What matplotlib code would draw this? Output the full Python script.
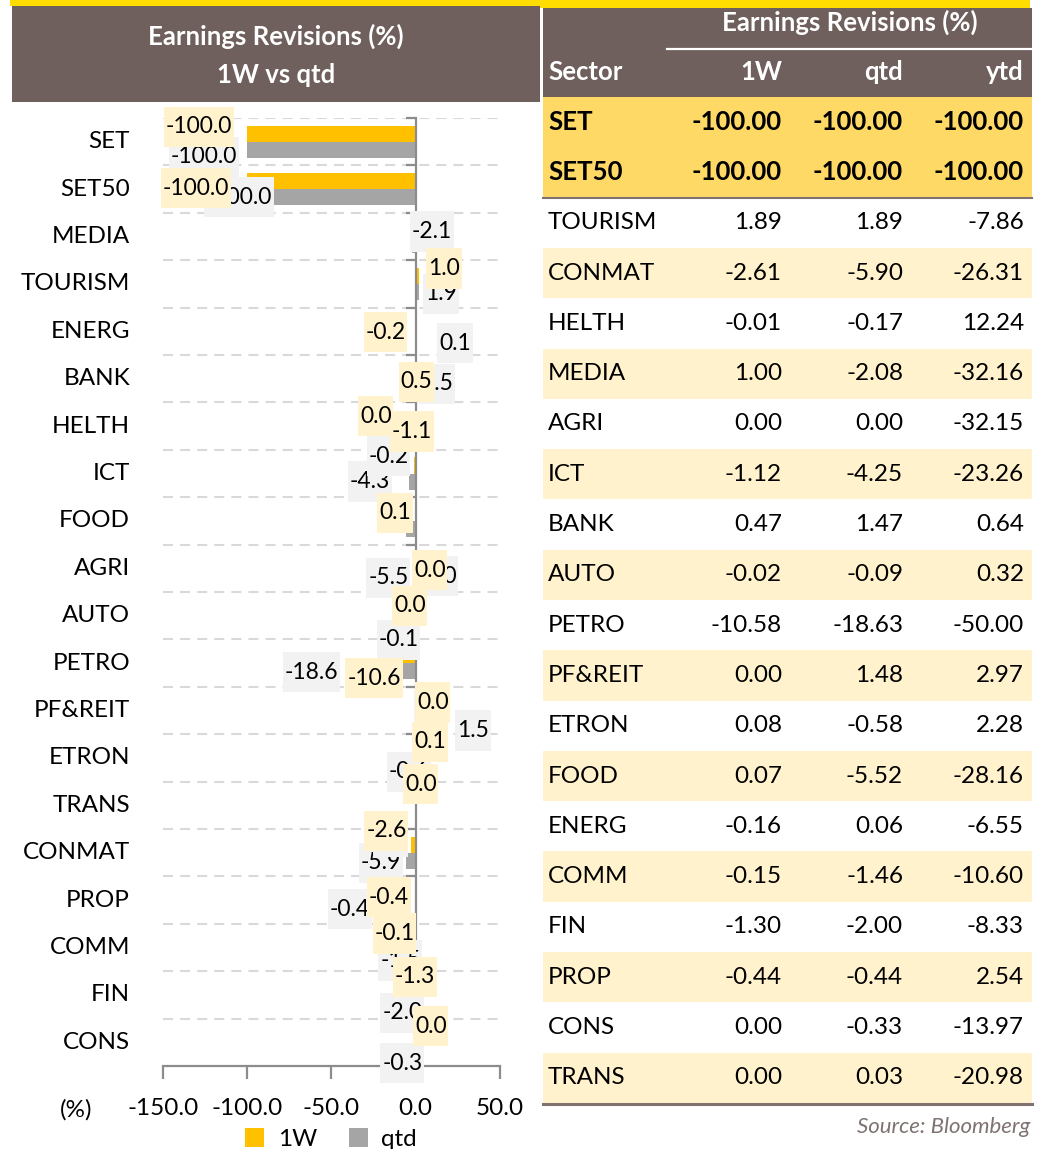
import matplotlib
matplotlib.use("Agg")
import matplotlib.pyplot as plt
from matplotlib.patches import Rectangle
from matplotlib.path import Path
from matplotlib.lines import Line2D
import numpy as np

# ---------------- data ----------------
table_sectors = ["SET", "SET50", "TOURISM", "CONMAT", "HELTH", "MEDIA", "AGRI", "ICT",
                 "BANK", "AUTO", "PETRO", "PF&REIT", "ETRON", "FOOD", "ENERG", "COMM",
                 "FIN", "PROP", "CONS", "TRANS"]
rev_1w = [-100.00, -100.00, 1.89, -2.61, -0.01, 1.00, 0.00, -1.12, 0.47, -0.02,
          -10.58, 0.00, 0.08, 0.07, -0.16, -0.148, -1.30, -0.44, 0.00, 0.00]
rev_qtd = [-100.00, -100.00, 1.89, -5.90, -0.17, -2.08, 0.00, -4.253, 1.47, -0.09,
           -18.63, 1.48, -0.58, -5.52, 0.06, -1.46, -2.00, -0.44, -0.33, 0.03]
rev_ytd = [-100.00, -100.00, -7.86, -26.31, 12.24, -32.16, -32.15, -23.26, 0.64, 0.32,
           -50.00, 2.97, 2.28, -28.16, -6.55, -10.60, -8.33, 2.54, -13.97, -20.98]

chart_sectors = ["SET", "SET50", "MEDIA", "TOURISM", "ENERG", "BANK", "HELTH", "ICT",
                 "FOOD", "AGRI", "AUTO", "PETRO", "PF&REIT", "ETRON", "TRANS", "CONMAT",
                 "PROP", "COMM", "FIN", "CONS"]
series_names = ["1W", "qtd"]
x_ticks = [-150, -100, -50, 0, 50]
table_columns = ["Sector", "1W", "qtd", "ytd"]

# ---------------- styles / layout ----------------
W, H, DPI = 1044, 1149, 100
BROWN = "#6F5F5D"
TOPYEL = "#FFDD00"
C_1W = "#FFC000"
C_QTD = "#A5A5A5"
LBL_1W = "#FFF2CC"
LBL_QTD = "#F2F2F2"
GOLD_ROW = "#FFD966"
LIGHT_ROW = "#FFF2CC"
AXC = "#8C8C8C"
FS_LBL = 16.5     # data labels inside the chart
FS = 17.5         # category names, ticks, table
FS_B = 18.5       # bold headers

# manual label displacements (pixels, +x right, +y down) as in the original chart
off_1w = [(-48, -7), (-51, 7), (27, 40), (25, -8), (-30, 9), (0, 11), (-40, -2), (-2, -34),
          (-21, 0), (14, 10), (-6, -2), (-24, 23), (17, 0), (14, -8), (5, -13), (-25, -14),
          (-26, 5), (-21, -6), (1, -10), (15, -8)]
off_qtd = [(-43, 7), (-8, 0), (20, -13), (22, 2), (39, 4), (19, -3), (-27, 22), (-39, 0),
           (-18, 49), (25, 0), (-17, 16), (-73, 1), (55, 12), (-6, 6), (-25, 24), (-25, 2),
           (-65, 1), (-13, 5), (-10, 10), (-13, 13)]

plt.rcParams["font.family"] = ["Lato", "DejaVu Sans"]

fig = plt.figure(figsize=(W / DPI, H / DPI), dpi=DPI)


def fx(px):
    return px / W


def fy(py):
    return 1 - py / H


def frect(x0, y0, x1, y1, color, z=0):
    fig.patches.append(Rectangle((fx(x0), fy(y1)), fx(x1) - fx(x0), fy(y0) - fy(y1),
                                 transform=fig.transFigure, facecolor=color,
                                 edgecolor="none", zorder=z))


def fline(x0, x1, y, color, lw):
    fig.lines.append(Line2D([fx(x0), fx(x1)], [fy(y), fy(y)], transform=fig.transFigure,
                            color=color, lw=lw))


def label_box(x0, y0, width, height, mutation_size):
    px = 0.08 * mutation_size
    py = 0.42 * mutation_size
    x0, y0 = x0 - px, y0 - py
    x1, y1 = x0 + width + 2 * px, y0 + height + 2 * py
    return Path([(x0, y0), (x1, y0), (x1, y1), (x0, y1), (x0, y0)], closed=True)


def fmt1(v):
    s = f"{v:.1f}"
    return "0.0" if s == "-0.0" else s


# ---------------- left panel header ----------------
frect(10, 0, 540, 6, TOPYEL)
frect(12, 6, 540, 102, BROWN)
fig.text(fx(276), fy(36), "Earnings Revisions (%)", color="white", fontsize=FS_B,
         fontweight="bold", ha="center", va="center")
fig.text(fx(276), fy(75), "1W vs qtd", color="white", fontsize=FS_B,
         fontweight="bold", ha="center", va="center")

# ---------------- chart ----------------
ax_top, ax_bot, ax_l, ax_r = 118, 1066, 163, 500
ax = fig.add_axes([fx(ax_l), fy(ax_bot), fx(ax_r) - fx(ax_l), (ax_bot - ax_top) / H])

v1 = [rev_1w[table_sectors.index(s)] for s in chart_sectors]
v2 = [rev_qtd[table_sectors.index(s)] for s in chart_sectors]
n = len(chart_sectors)
y = np.arange(n)
bh = 0.34
ax.barh(y - bh / 2, v1, height=bh, color=C_1W, zorder=3, label=series_names[0])
ax.barh(y + bh / 2, v2, height=bh, color=C_QTD, zorder=3, label=series_names[1])

ax.set_xlim(x_ticks[0], x_ticks[-1])
ax.set_ylim(n - 0.5, -0.5)
ax.set_xticks(x_ticks)
ax.set_xticklabels([f"{t:.1f}" for t in x_ticks], fontsize=FS)
ax.set_yticks([])
ax.set_yticks(np.arange(-0.5, n - 0.5), minor=True)
ax.tick_params(axis="y", which="minor", length=7, width=1.6, color=AXC, labelleft=False)
ax.tick_params(axis="x", length=9, width=1.6, color=AXC, pad=14)
ax.grid(axis="y", which="minor", linestyle=(0, (4.8, 3.4)), color="#D9D9D9", lw=1.5)
ax.set_axisbelow(True)
for s in ["top", "right"]:
    ax.spines[s].set_visible(False)
ax.spines["left"].set_position(("data", 0))
ax.spines["left"].set_color(AXC)
ax.spines["left"].set_linewidth(1.6)
ax.spines["left"].set_zorder(3.5)
ax.spines["bottom"].set_color(AXC)
ax.spines["bottom"].set_linewidth(1.6)

for i, name in enumerate(chart_sectors):
    ax.annotate(name, xy=(0, i), xycoords=ax.get_yaxis_transform(), xytext=(-33, 0),
                textcoords="offset pixels", ha="right", va="center", fontsize=FS,
                annotation_clip=False)

for vals, offs, fc, dy, zb in [(v2, off_qtd, LBL_QTD, bh / 2, 5), (v1, off_1w, LBL_1W, -bh / 2, 6)]:
    for i, v in enumerate(vals):
        dx, ddy = offs[i]
        ax.annotate(fmt1(v), xy=(v, i + dy), xytext=(dx, -ddy), textcoords="offset pixels",
                    ha="center", va="center", fontsize=FS_LBL, annotation_clip=False,
                    bbox=dict(boxstyle=label_box, fc=fc, ec="none"), zorder=zb - 0.01 * i)

fig.text(fx(76), fy(1110), "(%)", fontsize=FS, ha="center", va="center")
handles = [Rectangle((0, 0), 1, 1, fc=C_1W, ec="none"), Rectangle((0, 0), 1, 1, fc=C_QTD, ec="none")]
fig.legend(handles, series_names, loc="center", bbox_to_anchor=(fx(331), fy(1139)), ncol=2,
           frameon=False, fontsize=FS, handlelength=0.8, handleheight=0.8,
           handletextpad=0.55, columnspacing=1.3, borderpad=0)

# ---------------- right table ----------------
tx0, tx1 = 543, 1032
frect(540, 0, 1030, 8, TOPYEL)
frect(tx0, 8, tx1, 97, BROWN)
fig.text(fx(850), fy(22), "Earnings Revisions (%)", color="white", fontsize=FS_B,
         fontweight="bold", ha="center", va="center")
fline(667, tx1, 48.5, "white", 1.6)
col_right = [782, 903, 1024]
fig.text(fx(548), fy(72), table_columns[0], color="white", fontsize=FS_B, fontweight="bold",
         ha="left", va="center")
for c, xr in zip(table_columns[1:], col_right):
    fig.text(fx(xr), fy(72), c, color="white", fontsize=FS_B, fontweight="bold",
             ha="right", va="center")

row_top, row_h = 97, 50.3
for i, s in enumerate(table_sectors):
    t = row_top + i * row_h
    if i < 2:
        bg, fw, fs = GOLD_ROW, "bold", FS_B
    else:
        bg, fw, fs = (LIGHT_ROW if i % 2 == 1 else None), "normal", FS
    if bg:
        frect(tx0, t, tx1, t + row_h, bg)
    yc = t + row_h / 2
    fig.text(fx(548), fy(yc), s, fontsize=fs, fontweight=fw, ha="left", va="center")
    for val, xr in zip([rev_1w[i], rev_qtd[i], rev_ytd[i]], col_right):
        fig.text(fx(xr), fy(yc), f"{val:.2f}", fontsize=fs, fontweight=fw,
                 ha="right", va="center")

fline(tx0, tx1, row_top + 2 * row_h, "#7F7372", 1.5)
fline(tx0, tx1, row_top + len(table_sectors) * row_h + 1, "#7F7372", 2.2)
fig.text(fx(1030), fy(1127), "Source: Bloomberg", fontsize=16, style="italic",
         color="#7F7372", ha="right", va="center")

fig.savefig("out.png", dpi=DPI)
